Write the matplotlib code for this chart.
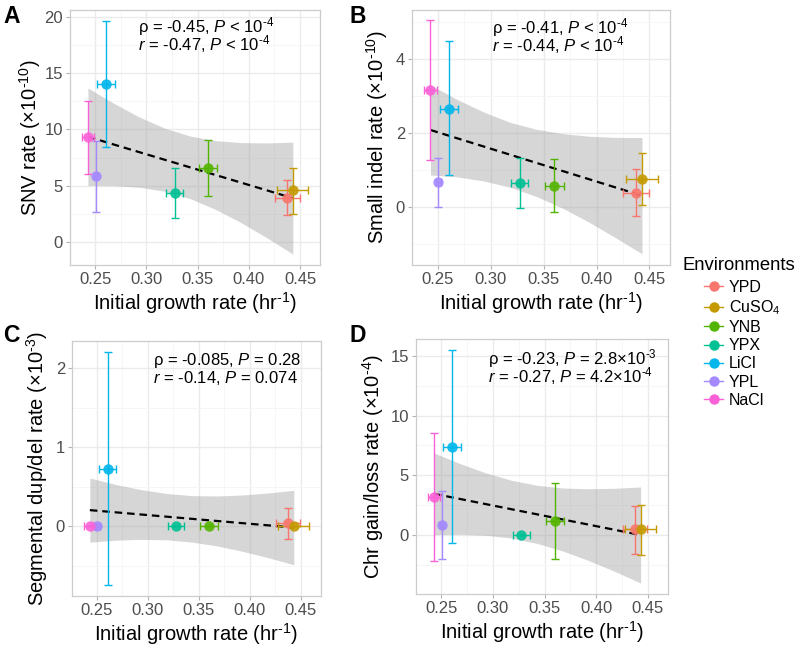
import matplotlib.pyplot as plt
import numpy as np
from matplotlib.lines import Line2D
from matplotlib.ticker import MultipleLocator

plt.rcParams['font.family'] = ['Liberation Sans', 'DejaVu Sans']
plt.rcParams['mathtext.fontset'] = 'custom'
plt.rcParams['mathtext.rm'] = 'Liberation Sans'
plt.rcParams['mathtext.it'] = 'Liberation Sans:italic'
plt.rcParams['mathtext.bf'] = 'Liberation Sans:bold'

# environments (same order as legend)
envs = ['YPD', 'CuSO$_4$', 'YNB', 'YPX', 'LiCl', 'YPL', 'NaCl']
colors = ['#F8766D', '#C49A00', '#53B400', '#00C094', '#00B6EB', '#A58AFF', '#FB61D7']

# initial growth rate (hr-1) and its error
growth = [0.4375, 0.443, 0.360, 0.3275, 0.2605, 0.2505, 0.2428]
growth_err = [0.012, 0.015, 0.0088, 0.008, 0.0085, 0.002, 0.006]

# panel A: SNV rate (x1e-10)
snv = [3.9, 4.58, 6.6, 4.37, 14.0, 5.88, 9.3]
snv_lo = [2.38, 2.47, 4.07, 2.17, 8.4, 2.7, 6.03]
snv_hi = [5.47, 6.6, 9.03, 6.54, 19.6, 9.0, 12.57]

# panel B: small indel rate (x1e-10)
indel = [0.37, 0.76, 0.57, 0.65, 2.65, 0.66, 3.17]
indel_lo = [-0.26, 0.06, -0.15, -0.04, 0.85, 0.0, 1.27]
indel_hi = [1.01, 1.46, 1.29, 1.33, 4.48, 1.31, 5.05]

# panel C: segmental dup/del rate (x1e-3)
seg = [0.046, 0.0, 0.0, 0.0, 0.73, 0.0, 0.0]
seg_lo = [-0.16, 0.0, 0.0, 0.0, -0.745, 0.0, 0.0]
seg_hi = [0.236, 0.0, 0.0, 0.0, 2.20, 0.0, 0.0]

# panel D: chr gain/loss rate (x1e-4)
chrom = [0.47, 0.5, 1.2, 0.0, 7.40, 0.84, 3.16]
chrom_lo = [-1.62, -1.68, -1.98, 0.0, -0.64, -1.98, -2.18]
chrom_hi = [2.43, 2.51, 4.36, 0.0, 15.5, 3.69, 8.52]

# regression fit and 95% band
fit_x = [0.243, 0.443]
band_x = [0.243, 0.268, 0.293, 0.318, 0.343, 0.368, 0.393, 0.418, 0.443]

fit_a = [9.35, 3.90]
band_a_up = [13.68, 12.33, 11.11, 10.11, 9.41, 9.00, 8.83, 8.80, 8.87]
band_a_lo = [5.02, 5.01, 4.87, 4.51, 3.85, 2.88, 1.70, 0.36, -1.07]

fit_b = [2.08, 0.30]
band_b_up = [3.30, 2.91, 2.57, 2.29, 2.10, 1.98, 1.91, 1.88, 1.875]
band_b_lo = [0.86, 0.81, 0.70, 0.53, 0.28, -0.04, -0.42, -0.84, -1.275]

fit_c = [0.205, -0.015]
band_c_up = [0.61, 0.531, 0.464, 0.4155, 0.388, 0.384, 0.396, 0.422, 0.455]
band_c_lo = [-0.20, -0.175, -0.164, -0.17, -0.198, -0.248, -0.316, -0.396, -0.485]

fit_d = [3.45, 0.0]
band_d_up = [6.87, 5.98, 5.20, 4.58, 4.16, 3.93, 3.87, 3.91, 4.02]
band_d_lo = [0.03, 0.06, -0.02, -0.26, -0.71, -1.35, -2.15, -3.05, -4.02]

P = '$\\it{P}$'
R = '$\\it{r}$'
panels = [
    dict(rect=[0.0875, 0.5904, 0.3125, 0.394], y=snv, lo=snv_lo, hi=snv_hi,
         fit=fit_a, up=band_a_up, dn=band_a_lo, ylim=(-2.04, 20.6), major=5, minor=2.5,
         ylabel='SNV rate (×10$^{\\text{-10}}$)', pad=1,
         stats=['ρ = -0.45, ' + P + ' < 10$^{\\text{-4}}$', R + ' = -0.47, ' + P + ' < 10$^{\\text{-4}}$'],
         tpos=(0.272, 0.912, 0.842)),
    dict(rect=[0.515, 0.5904, 0.3225, 0.394], y=indel, lo=indel_lo, hi=indel_hi,
         fit=fit_b, up=band_b_up, dn=band_b_lo, ylim=(-1.58, 5.33), major=2, minor=1,
         ylabel='Small indel rate (×10$^{\\text{-10}}$)', pad=4,
         stats=['ρ = -0.41, ' + P + ' < 10$^{\\text{-4}}$', R + ' = -0.44, ' + P + ' < 10$^{\\text{-4}}$'],
         tpos=(0.31, 0.907, 0.837)),
    dict(rect=[0.09, 0.0788, 0.311, 0.394], y=seg, lo=seg_lo, hi=seg_hi,
         fit=fit_c, up=band_c_up, dn=band_c_lo, ylim=(-0.88, 2.34), major=1, minor=0.5,
         ylabel='Segmental dup/del rate (×10$^{\\text{-3}}$)', pad=4,
         stats=['ρ = -0.085, ' + P + ' = 0.28', R + ' = -0.14, ' + P + ' = 0.074'],
         tpos=(0.325, 0.907, 0.835)),
    dict(rect=[0.52, 0.0819, 0.315, 0.394], y=chrom, lo=chrom_lo, hi=chrom_hi,
         fit=fit_d, up=band_d_up, dn=band_d_lo, ylim=(-4.94, 16.4), major=5, minor=2.5,
         ylabel='Chr gain/loss rate (×10$^{\\text{-4}}$)', pad=3,
         stats=['ρ = -0.23, ' + P + ' = 2.8×10$^{\\text{-3}}$', R + ' = -0.27, ' + P + ' = 4.2×10$^{\\text{-4}}$'],
         tpos=(0.286, 0.902, 0.83)),
]

fig = plt.figure(figsize=(8, 6.47), dpi=100)

for p in panels:
    ax = fig.add_axes(p['rect'])
    ax.set_xlim(0.2255, 0.4695)
    ax.set_ylim(*p['ylim'])
    ax.xaxis.set_major_locator(MultipleLocator(0.05))
    ax.xaxis.set_minor_locator(MultipleLocator(0.025))
    ax.yaxis.set_major_locator(MultipleLocator(p['major']))
    ax.yaxis.set_minor_locator(MultipleLocator(p['minor']))
    ax.xaxis.set_major_formatter(lambda v, pos: '%.2f' % v)
    ax.grid(which='major', color='#EBEBEB', linewidth=1.0, zorder=0)
    ax.grid(which='minor', color='#F5F5F5', linewidth=0.6, zorder=0)
    ax.set_axisbelow(True)
    for s in ax.spines.values():
        s.set_color('#CCCCCC')
        s.set_linewidth(0.9)
    ax.tick_params(which='major', length=3, color='#B3B3B3', labelsize=12,
                   labelcolor='#4D4D4D', pad=2)
    ax.tick_params(which='minor', length=0)

    ax.fill_between(band_x, p['dn'], p['up'], color='0.6', alpha=0.4,
                    linewidth=0, zorder=1)
    ln, = ax.plot(fit_x, p['fit'], color='black', linewidth=1.6, zorder=2)
    ln.set_dashes([3.4, 2.2])

    for i in range(len(envs)):
        yv = p['y'][i]
        yerr = [[yv - p['lo'][i]], [p['hi'][i] - yv]]
        ax.errorbar(growth[i], yv, yerr=yerr, xerr=growth_err[i], fmt='none',
                    ecolor=colors[i], elinewidth=1.0, capsize=3, capthick=1.0, zorder=3)
    for i in range(len(envs)):
        ax.plot(growth[i], p['y'][i], 'o', color=colors[i], markersize=7.5,
                markeredgewidth=0, alpha=0.9, zorder=4)

    ax.set_xlabel('Initial growth rate (hr$^{\\text{-1}}$)', fontsize=14.5, labelpad=2)
    ax.set_ylabel(p['ylabel'], fontsize=14.5, labelpad=p['pad'])

    tx, ty1, ty2 = p['tpos']
    ax.text(tx, ty1, p['stats'][0], transform=ax.transAxes, fontsize=12,
            va='baseline', ha='left')
    ax.text(tx, ty2, p['stats'][1], transform=ax.transAxes, fontsize=12,
            va='baseline', ha='left')

fig.text(0.004, 0.993, 'A', fontsize=16.5, fontweight='bold', va='top')
fig.text(0.437, 0.993, 'B', fontsize=16.5, fontweight='bold', va='top')
fig.text(0.004, 0.5, 'C', fontsize=16.5, fontweight='bold', va='top')
fig.text(0.437, 0.5, 'D', fontsize=16.5, fontweight='bold', va='top')

# legend: title as separate text so keys sit indented like ggplot
fig.text(683 / 800, 1 - 266 / 647, 'Environments', fontsize=13.3, va='center', ha='left')
handles = [Line2D([], [], color=c, marker='o', markersize=7.5, linewidth=1.0,
                  markeredgewidth=0) for c in colors]
leg = fig.legend(handles, envs, loc='upper left', bbox_to_anchor=(704 / 800, 1 - 280 / 647),
                 frameon=False, fontsize=11.5, handlelength=1.2, handletextpad=0.35,
                 labelspacing=0.2, borderaxespad=0, borderpad=0)

fig.savefig('out.png', dpi=100)
